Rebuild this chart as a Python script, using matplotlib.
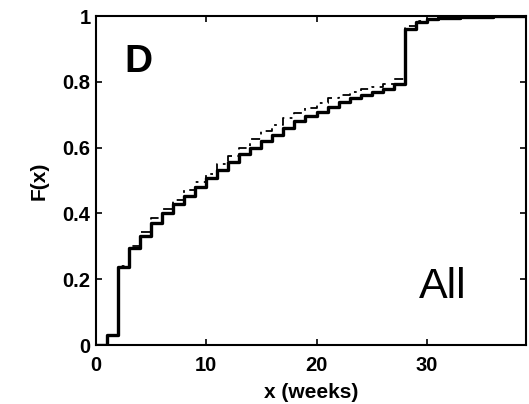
import numpy as np
import matplotlib
matplotlib.use('Agg')
import matplotlib.pyplot as plt

# weekly CDF values
weeks = np.arange(0, 40)
cdf_solid = [0, 0.03, 0.238, 0.294, 0.331, 0.372, 0.40, 0.428, 0.453, 0.481,
             0.507, 0.532, 0.557, 0.58, 0.60, 0.62, 0.64, 0.66, 0.68, 0.695,
             0.71, 0.725, 0.74, 0.75, 0.76, 0.77, 0.78, 0.795, 0.962, 0.983,
             0.99, 0.993, 0.995, 0.996, 0.997, 0.998, 0.999, 1.0, 1.0, 1.0]
cdf_dashed = [0, 0.03, 0.24, 0.30, 0.345, 0.385, 0.415, 0.44, 0.47, 0.496,
              0.52, 0.55, 0.575, 0.60, 0.625, 0.65, 0.67, 0.69, 0.705, 0.72,
              0.735, 0.75, 0.76, 0.77, 0.78, 0.785, 0.795, 0.81, 0.97, 0.985,
              0.99, 0.994, 0.996, 0.997, 0.998, 0.999, 1.0, 1.0, 1.0, 1.0]

xticks = [0, 10, 20, 30]
yticks = [0, 0.2, 0.4, 0.6, 0.8, 1]
yticklabels = ['0', '0.2', '0.4', '0.6', '0.8', '1']

plt.rcParams['font.family'] = ['Liberation Sans', 'DejaVu Sans']

fig = plt.figure(figsize=(5.29, 4.04), dpi=100)
ax = fig.add_axes([0.1815, 0.146, 0.8128, 0.814])

ax.plot(weeks, cdf_solid, drawstyle='steps-post', color='black', lw=2.4)
ax.plot(weeks, cdf_dashed, drawstyle='steps-post', color='black', lw=1.3,
        dashes=(5, 3, 1.5, 3))

ax.set_xlim(0, 39)
ax.set_ylim(0, 1)
ax.set_xticks(xticks)
ax.set_yticks(yticks)
ax.set_yticklabels(yticklabels)
ax.tick_params(direction='in', top=True, right=True, length=4, width=1.2,
               labelsize=14.5)
ax.tick_params(axis='x', pad=8)
ax.tick_params(axis='y', pad=4)
for lbl in ax.get_xticklabels() + ax.get_yticklabels():
    lbl.set_fontweight('bold')
for s in ax.spines.values():
    s.set_linewidth(1.5)

ax.set_xlabel('x (weeks)', fontsize=15, fontweight='bold', labelpad=6)
ax.set_ylabel('F(x)', fontsize=15, fontweight='bold', labelpad=10)

ax.text(2.6, 0.83, 'D', fontsize=28, fontweight='bold')
ax.text(29.3, 0.143, 'All', fontsize=31)

fig.savefig('out.png', dpi=100)
